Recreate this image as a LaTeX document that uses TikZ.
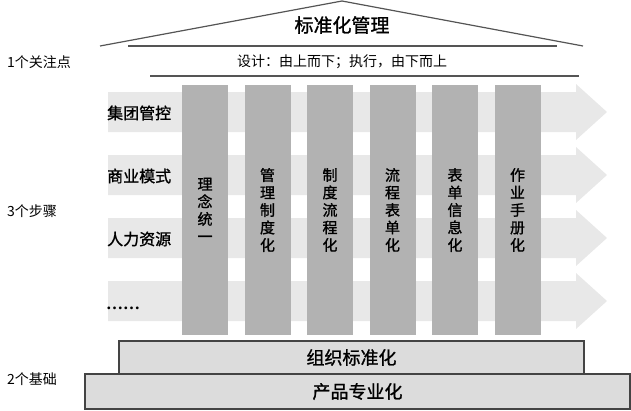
\documentclass[tikz,border=0pt]{standalone}
\usepackage{fontspec}
\setmainfont{Liberation Serif}
\newfontfamily\cjk{Noto Sans CJK SC}
\newfontfamily\cjkmid{Noto Sans CJK SC}[FakeBold=1.2]
\usepackage{xcolor}
\definecolor{bandgray}{HTML}{E8E8E8}
\definecolor{pillargray}{HTML}{B2B2B2}
\definecolor{platgray}{HTML}{DCDCDC}
\definecolor{edgegray}{HTML}{444444}
\definecolor{linegray}{HTML}{555555}

\begin{document}
\begin{tikzpicture}[x=1pt, y=-1pt,
    roofline/.style={draw=linegray, line width=1.2pt},
    band/.style={fill=bandgray, draw=none},
    pillar/.style={fill=pillargray, draw=none, minimum width=46pt, minimum height=250pt,
        inner sep=0pt, align=center, font=\cjkmid\fontsize{15}{17.5}\selectfont},
    platform/.style={draw=edgegray, line width=1.1pt, fill=platgray, inner sep=0pt,
        font=\cjkmid\fontsize{18}{20}\selectfont},
    sidetext/.style={anchor=west, inner sep=0pt, font=\cjk\fontsize{14}{16}\selectfont},
    rowtext/.style={anchor=west, inner sep=0pt, font=\cjkmid\fontsize{16}{18}\selectfont}]

    \useasboundingbox (0,0) rectangle (631,410);

    % ==========================================
    % ROOF
    % ==========================================
    \coordinate (roofL) at (100,46);
    \coordinate (apex) at (342,1);
    \coordinate (roofR) at (583,46);
    \draw[roofline] (roofL) -- (apex) -- (roofR);

    \node[font=\cjkmid\fontsize{19}{21}\selectfont] (title) at (342,25) {标准化管理};

    % the two rules under the roof
    \coordinate (ruleAL) at (128,46);
    \coordinate (ruleAR) at (557,46);
    \coordinate (ruleBL) at (150,76);
    \coordinate (ruleBR) at (579,76);
    \draw[roofline] (ruleAL) -- (ruleAR);
    \draw[roofline] (ruleBL) -- (ruleBR);

    \node[font=\cjk\fontsize{14}{16}\selectfont] (motto) at (342,62) {设计：由上而下；执行，由下而上};

    % ==========================================
    % ARROW BANDS (behind the pillars)
    % ==========================================
    \def\bandleft{108}  % left end of every band
    \def\headbase{576}  % where the arrow head starts
    \def\headtip{607}   % tip of the arrow head
    \foreach \yc in {112,175,238,301} {
        \fill[band] (\bandleft,{\yc-20}) -- (\headbase,{\yc-20}) -- (\headbase,{\yc-28})
            -- (\headtip,\yc) -- (\headbase,{\yc+28}) -- (\headbase,{\yc+20})
            -- (\bandleft,{\yc+20}) -- cycle;
    }

    \node[rowtext] (group) at (107,113) {集团管控};
    \node[rowtext] (business) at (107,176) {商业模式};
    \node[rowtext] (hr) at (107,239) {人力资源};
    \node[anchor=west, inner sep=0pt, font=\bfseries\fontsize{17}{19}\selectfont] (more) at (106,308) {……};

    % ==========================================
    % PILLARS
    % ==========================================
    \foreach \i/\txt in {0/理\\念\\统\\一, 1/管\\理\\制\\度\\化, 2/制\\度\\流\\程\\化,
                         3/流\\程\\表\\单\\化, 4/表\\单\\信\\息\\化, 5/作\\业\\手\\册\\化} {
        \node[pillar] (pillar\i) at ({205+62.5*\i},210) {\txt};
    }

    % ==========================================
    % FOUNDATION
    % ==========================================
    \node[platform, minimum width=545pt, minimum height=35pt] (product) at (357.5,391.5) {产品专业化};
    \node[platform, minimum width=465pt, minimum height=33pt] (organize) at (351.5,357.5) {组织标准化};

    % ==========================================
    % SIDE LABELS
    % ==========================================
    \node[sidetext] (focus) at (7,62) {1个关注点};
    \node[sidetext] (steps) at (7,211) {3个步骤};
    \node[sidetext] (basis) at (7,379) {2个基础};
\end{tikzpicture}
\end{document}
